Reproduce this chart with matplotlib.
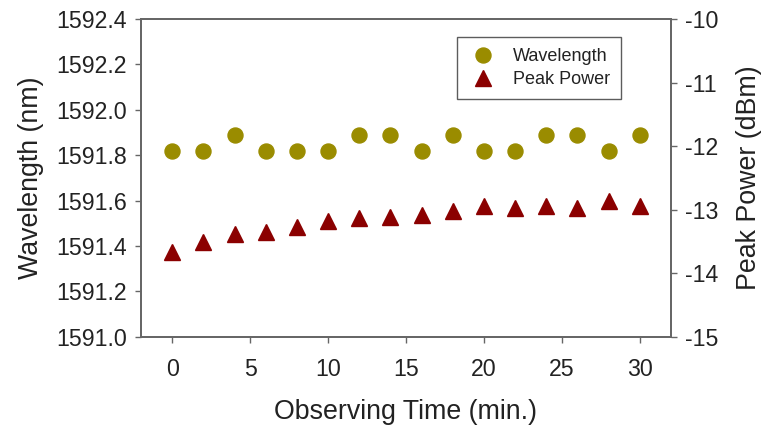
import matplotlib.pyplot as plt
from matplotlib.ticker import FormatStrFormatter

# Observing time (min.)
time_min = [0, 2, 4, 6, 8, 10, 12, 14, 16, 18, 20, 22, 24, 26, 28, 30]
# Center wavelength (nm)
wavelength = [1591.82, 1591.82, 1591.89, 1591.82, 1591.82, 1591.82, 1591.89, 1591.89,
              1591.82, 1591.89, 1591.82, 1591.82, 1591.89, 1591.89, 1591.82, 1591.89]
# Peak power (dBm)
peak_power = [-13.67, -13.51, -13.39, -13.35, -13.28, -13.18, -13.13, -13.12,
              -13.08, -13.02, -12.95, -12.97, -12.94, -12.97, -12.86, -12.95]

plt.rcParams['font.family'] = ['Liberation Sans', 'DejaVu Sans']
plt.rcParams['axes.unicode_minus'] = False

frame_color = '#666666'
text_color = '#222222'

fig = plt.figure(figsize=(7.65, 4.25), dpi=100)
ax = fig.add_axes([0.1843, 0.2078, 0.6928, 0.7475])
ax2 = ax.twinx()

h1, = ax.plot(time_min, wavelength, 'o', color='#9A8C00', markersize=10.8,
              linestyle='none', label='Wavelength')
h2, = ax2.plot(time_min, peak_power, '^', color='#8B0000', markersize=11.5,
               linestyle='none', label='Peak Power')

ax.set_xlim(-2, 32)
ax.set_ylim(1591.0, 1592.4)
ax.set_xticks([0, 5, 10, 15, 20, 25, 30])
ax.set_yticks([1591.0, 1591.2, 1591.4, 1591.6, 1591.8, 1592.0, 1592.2, 1592.4])
ax.yaxis.set_major_formatter(FormatStrFormatter('%.1f'))
ax2.set_ylim(-15, -10)
ax2.set_yticks([-15, -14, -13, -12, -11, -10])

ax.set_xlabel('Observing Time (min.)', fontsize=19.3, color=text_color, labelpad=13)
ax.set_ylabel('Wavelength (nm)', fontsize=19.3, color=text_color, labelpad=9)
ax2.set_ylabel('Peak Power (dBm)', fontsize=19.3, color=text_color, labelpad=13)

for a in (ax, ax2):
    for sp in a.spines.values():
        sp.set_color(frame_color)
        sp.set_linewidth(1.3)
    a.tick_params(direction='out', length=4, width=1, color=frame_color,
                  labelsize=16.7, labelcolor=text_color)
ax.tick_params(axis='x', pad=11)
ax.tick_params(axis='y', pad=6)
ax2.tick_params(axis='y', pad=6)

leg = ax.legend(handles=[h1, h2], loc='upper left', bbox_to_anchor=(0.597, 0.943),
                fontsize=13, frameon=True, fancybox=False, borderpad=0.6,
                handletextpad=0.9, labelspacing=0.35, handlelength=1.6,
                borderaxespad=0)
leg.get_frame().set_edgecolor('#333333')
leg.get_frame().set_linewidth(1.0)
for t in leg.get_texts():
    t.set_color(text_color)

fig.savefig('out.png', dpi=100)
